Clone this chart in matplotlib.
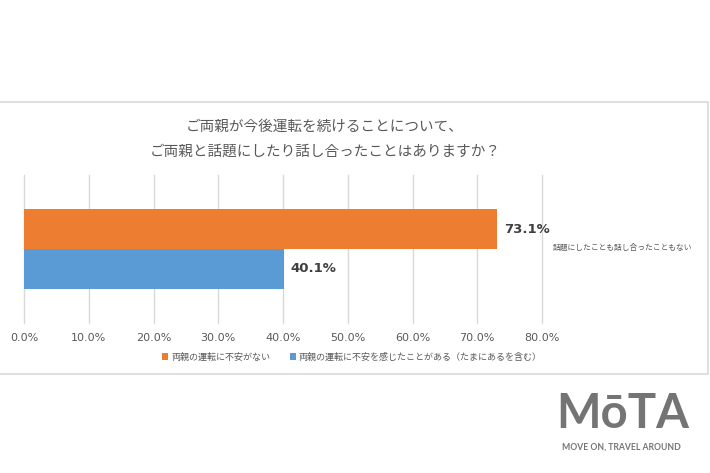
import matplotlib
matplotlib.use('Agg')
import matplotlib.pyplot as plt
from matplotlib.patches import Rectangle

plt.rcParams['font.family'] = ['Noto Sans CJK JP', 'DejaVu Sans']

# data
title_lines = ['ご両親が今後運転を続けることについて、',
               'ご両親と話題にしたり話し合ったことはありますか？']
series_names = ['両親の運転に不安がない',
                '両親の運転に不安を感じたことがある（たまにあるを含む）']
values = [73.1, 40.1]
colors = ['#ED7D31', '#5B9BD5']
note = '話題にしたことも話し合ったこともない'
xticks = [0, 10, 20, 30, 40, 50, 60, 70, 80]

W, H = 710, 473
fig = plt.figure(figsize=(W / 100, H / 100), dpi=100)

# frame around the chart area
fig.patches.append(Rectangle((-2 / W, 1 - 374 / H), 710 / W, 272 / H,
                             transform=fig.transFigure, fill=False,
                             edgecolor='#d9d9d9', linewidth=1.2))

ax = fig.add_axes([24 / W, 1 - 323 / H, 518 / W, 148 / H])
ypos = [1, 0]
for y, v, c, name in zip(ypos, values, colors, series_names):
    ax.barh(y, v, height=1.0, color=c, label=name, zorder=3)
    ax.text(v + 1.0, y, '{:.1f}%'.format(v), va='center', ha='left',
            fontsize=9.5, fontweight='bold', color='#404040',
            family='DejaVu Sans')

ax.set_xlim(0, 80)
ax.set_ylim(-1.35, 2.35)
ax.set_xticks(xticks)
ax.set_xticklabels(['{:.1f}%'.format(t) for t in xticks],
                   fontsize=8, color='#595959', family='DejaVu Sans')
ax.set_yticks([])
ax.tick_params(axis='x', length=0, pad=7)
ax.grid(axis='x', color='#d9d9d9', linewidth=1, zorder=0)
for l in ax.get_xgridlines():
    l.set_clip_on(False)
for s in ax.spines.values():
    s.set_visible(False)

ax.text(81.7, 0.52, note, fontsize=5.6, color='#595959', va='center',
        ha='left', clip_on=False)

fig.text(325 / W, 1 - 127 / H, title_lines[0], ha='center', va='center',
         fontsize=10.5, color='#595959')
fig.text(325 / W, 1 - 152 / H, title_lines[1], ha='center', va='center',
         fontsize=10.5, color='#595959')

fig.legend(loc='center', bbox_to_anchor=(352 / W, 1 - 357 / H), ncol=2,
           frameon=False, fontsize=6.5, handlelength=0.7, handleheight=0.7,
           handletextpad=0.3, columnspacing=2.2, labelcolor='#595959')

# logo
fig.text(623 / W, 1 - 414 / H, 'MōTA', ha='center', va='center',
         fontsize=34, fontweight='bold', color='#747474', family='Lato')
fig.text(621 / W, 1 - 447 / H, 'MOVE ON, TRAVEL AROUND', ha='center',
         va='center', fontsize=6.2, fontweight='bold', color='#747474',
         family='Lato')

fig.savefig('out.png', dpi=100, facecolor='white')
